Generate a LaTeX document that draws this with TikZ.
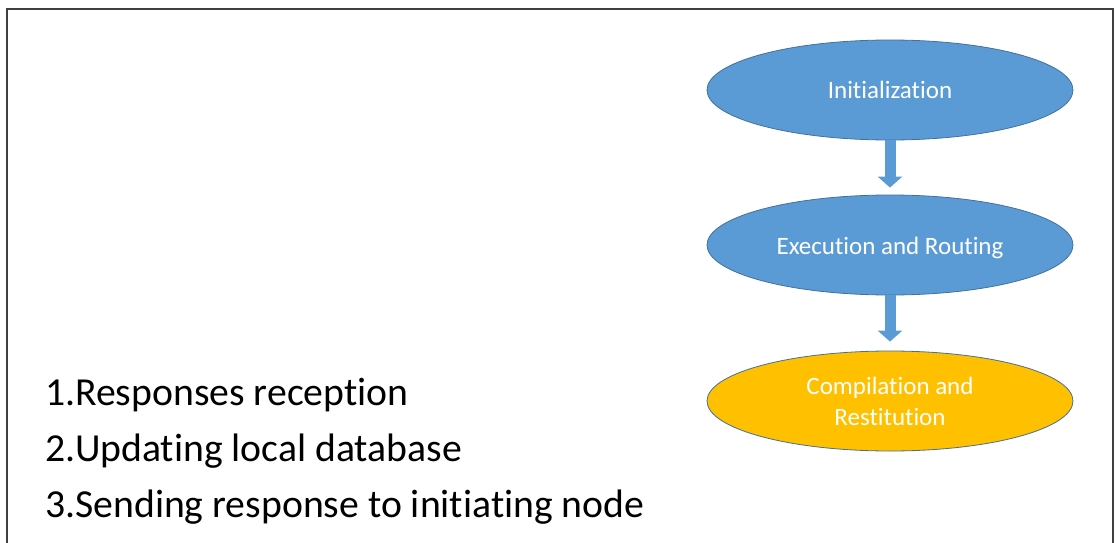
\documentclass[tikz,border=0pt]{standalone}
\usepackage{fontspec}
\setmainfont{Carlito}[Ligatures={NoCommon}]
\usetikzlibrary{shapes.geometric,arrows.meta}
\definecolor{blueFill}{HTML}{5B9BD5}
\definecolor{blueLine}{HTML}{41719C}
\definecolor{goldFill}{HTML}{FFC000}
\definecolor{frameGray}{HTML}{404040}
\begin{document}
\begin{tikzpicture}[x=1pt,y=-1pt,
  stage/.style={ellipse, draw=blueLine, line width=0.8pt, fill=blueFill,
    minimum width=366pt, minimum height=100pt, inner sep=0pt,
    text=white, font=\fontsize{25}{31}\selectfont, align=center},
  single/.style={text height=18pt, text depth=0pt},
  blockarrow/.style={line width=11pt, color=blueFill,
    -{Triangle[width=24pt,length=11pt]}},
  listitem/.style={anchor=base west, inner sep=0pt, text=black,
    font=\fontsize{39.7}{48}\selectfont}]
\useasboundingbox (0,0) rectangle (1117,543);
\fill[white] (0,0) rectangle (1117,543);
\draw[frameGray, line width=2pt] (7,9) rectangle (1113,600);

\node[stage, single] (init) at (890,90) {Initialization};
\node[stage, single] (exec) at (890,245) {Execution and Routing};
\node[stage, fill=goldFill] (comp) at (890,401) {Compilation and\\Restitution};

\draw[blockarrow, shorten >=7pt] (init.south) -- (exec.north);
\draw[blockarrow, shorten >=9pt] (exec.south) -- (comp.north);

\node[listitem] (l1) at (45,405) {1.Responses reception};
\node[listitem] (l2) at (45,461) {2.Updating local database};
\node[listitem] (l3) at (45,517) {3.Sending response to initiating node};
\end{tikzpicture}
\end{document}
